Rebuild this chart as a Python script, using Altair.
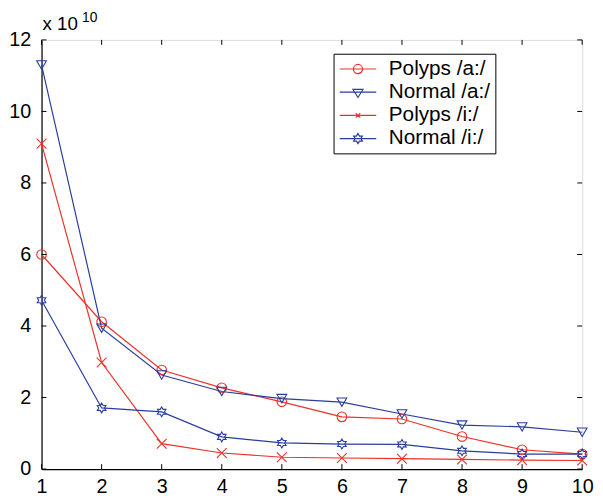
import math
import altair as alt
import pandas as pd

# ---- data (values in units of 1e10) ----
x_vals = [1, 2, 3, 4, 5, 6, 7, 8, 9, 10]
polyps_a = [6.0, 4.12, 2.77, 2.27, 1.88, 1.46, 1.40, 0.91, 0.54, 0.42]
normal_a = [11.3, 3.94, 2.63, 2.17, 1.97, 1.87, 1.54, 1.23, 1.18, 1.03]
polyps_i = [9.1, 2.98, 0.71, 0.45, 0.33, 0.31, 0.29, 0.27, 0.25, 0.24]
normal_i = [4.72, 1.71, 1.60, 0.90, 0.73, 0.70, 0.69, 0.51, 0.42, 0.42]

series_names = ["Polyps /a:/", "Normal /a:/", "Polyps /i:/", "Normal /i:/"]
series_values = [polyps_a, normal_a, polyps_i, normal_i]
series_colors = ["#ea3228", "#2a3d9e", "#ea3228", "#2a3d9e"]

x_ticks = [1, 2, 3, 4, 5, 6, 7, 8, 9, 10]
y_ticks = [0, 2, 4, 6, 8, 10, 12]

# ---- build table ----
rows = []
for name, vals in zip(series_names, series_values):
    for xv, yv in zip(x_vals, vals):
        rows.append({"x": xv, "y": yv, "series": name})
df = pd.DataFrame(rows)

# ---- marker paths ----
def f(v):
    return f"{v:.3f}"

def circle_path(cx, r):
    return (f"M{f(cx - r)},0A{f(r)},{f(r)},0,1,0,{f(cx + r)},0"
            f"A{f(r)},{f(r)},0,1,0,{f(cx - r)},0Z")

def tri_down_path(cx, r):
    return (f"M{f(cx - r)},{f(-0.55 * r)}L{f(cx + r)},{f(-0.55 * r)}"
            f"L{f(cx)},{f(1.05 * r)}Z")

def x_path(cx, r):
    return (f"M{f(cx - r)},{f(-r)}L{f(cx + r)},{f(r)}"
            f"M{f(cx - r)},{f(r)}L{f(cx + r)},{f(-r)}")

def hex_path(cx, r):
    pts = []
    for k in range(12):
        ang = math.radians(-90 + 30 * k)
        rr = r if k % 2 == 0 else r / math.sqrt(3)
        pts.append((cx + rr * math.cos(ang), rr * math.sin(ang)))
    return "M" + "L".join(f"{f(px)},{f(py)}" for px, py in pts) + "Z"

point_shapes = ["circle", "triangle-down", x_path(0, 1), hex_path(0, 1)]
point_sizes = [95, 100, 22, 105]

# legend symbols: line + marker (unit = sqrt(symbolSize)/2 px)
leg_line = "M-1,0L3,0"
leg_paths = [
    leg_line + circle_path(1, 0.5),
    leg_line + tri_down_path(1, 0.55),
    leg_line + x_path(1, 0.25),
    leg_line + hex_path(1, 0.55),
]

FONT = "Liberation Sans"

def cscale():
    return alt.Scale(domain=series_names, range=series_colors)

x_scale = alt.Scale(domain=[1, 10], nice=False, zero=False)
y_scale = alt.Scale(domain=[0, 12], nice=False)

x_axis = alt.Axis(values=x_ticks, ticks=False, grid=False, labelFontSize=20,
                  labelFont=FONT, labelColor="black", labelPadding=8,
                  domainColor="black", domainWidth=1.2, title=None,
                  labelFlush=False, format="d")
y_axis = alt.Axis(values=y_ticks, ticks=False, grid=False, labelFontSize=20,
                  labelFont=FONT, labelColor="black", labelPadding=11,
                  domainColor="black", domainWidth=1.2, title=None, format="d")

base = alt.Chart(df)

lines = base.mark_line(strokeWidth=1.2).encode(
    x=alt.X("x:Q", scale=x_scale, axis=x_axis),
    y=alt.Y("y:Q", scale=y_scale, axis=y_axis),
    color=alt.Color("series:N", scale=cscale(), legend=None),
    order="x:Q",
)

points = base.mark_point(filled=False, strokeWidth=1.1, opacity=1).encode(
    x=alt.X("x:Q", scale=x_scale),
    y=alt.Y("y:Q", scale=y_scale),
    color=alt.Color("series:N", scale=cscale(), legend=None),
    shape=alt.Shape("series:N", scale=alt.Scale(domain=series_names, range=point_shapes), legend=None),
    size=alt.Size("series:N", scale=alt.Scale(domain=series_names, range=point_sizes), legend=None),
)

leg_props = dict(
    title=None, orient="none", legendX=296, legendY=14,
    strokeColor="black", fillColor="white", padding=5,
    cornerRadius=0, labelFont=FONT, labelFontSize=21,
    labelColor="black", labelOffset=30, symbolSize=342,
    symbolStrokeWidth=1.2, rowPadding=1.5, labelLimit=300,
    labelExpr="datum.label + '      '", symbolOpacity=1,
)

legend_layer = base.transform_filter("datum.x < 0").mark_point(
    filled=False, strokeWidth=1.2).encode(
    x=alt.X("x:Q", scale=x_scale),
    y=alt.Y("y:Q", scale=y_scale),
    color=alt.Color("series:N", scale=cscale(), legend=alt.Legend(**leg_props)),
    shape=alt.Shape("series:N", scale=alt.Scale(domain=series_names, range=leg_paths),
                    legend=alt.Legend(**leg_props)),
)

# inward ticks
PW, PH = 548, 435
xt = alt.Chart(pd.DataFrame({"t": x_ticks}))
yt = alt.Chart(pd.DataFrame({"t": y_ticks}))
tick_style = dict(color="black", strokeWidth=1)
top_ticks = xt.mark_rule(**tick_style).encode(
    x=alt.X("t:Q", scale=x_scale), y=alt.value(0), y2=alt.value(5))
bot_ticks = xt.mark_rule(**tick_style).encode(
    x=alt.X("t:Q", scale=x_scale), y=alt.value(PH), y2=alt.value(PH - 5))
left_ticks = yt.mark_rule(**tick_style).encode(
    y=alt.Y("t:Q", scale=y_scale), x=alt.value(0), x2=alt.value(5))
right_ticks = yt.mark_rule(**tick_style).encode(
    y=alt.Y("t:Q", scale=y_scale), x=alt.value(PW), x2=alt.value(PW - 5))

one = alt.Chart(pd.DataFrame({"a": [0]}))
exp_text = one.mark_text(text="x 10", font=FONT, fontSize=19, align="left",
                         baseline="alphabetic", color="black").encode(
    x=alt.value(1), y=alt.value(-10))
sup_text = one.mark_text(text="10", font=FONT, fontSize=14, align="left",
                         baseline="alphabetic", color="black").encode(
    x=alt.value(41), y=alt.value(-18))

chart = alt.layer(
    lines, points, legend_layer, top_ticks, bot_ticks, left_ticks, right_ticks,
    exp_text, sup_text,
).resolve_scale(
    shape="independent", size="independent", color="independent"
).properties(
    width=PW, height=PH,
    padding={"left": 34, "top": 29, "right": 13, "bottom": 28},
    autosize=alt.AutoSizeParams(type="none"),
).configure_view(
    stroke="black", strokeWidth=1.2
).configure(background="white")

chart.save("out.html", embed_options={"renderer": "svg", "actions": False})
